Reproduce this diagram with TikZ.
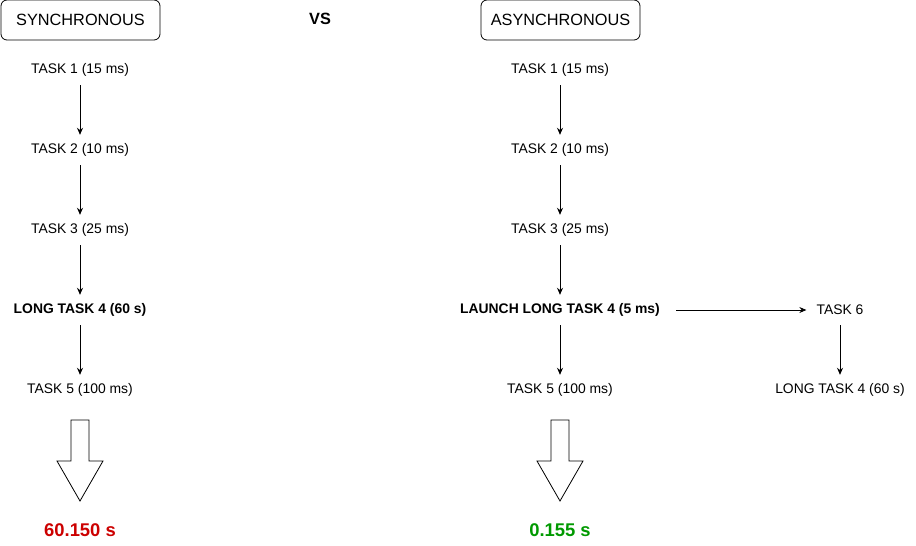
\documentclass[tikz,border=0pt]{standalone}
\usepackage{fontspec}
\setmainfont{Liberation Sans}
\usetikzlibrary{arrows.meta}
\definecolor{resred}{HTML}{CC0000}
\definecolor{resgreen}{HTML}{009900}
\begin{document}
\begin{tikzpicture}[x=1pt,y=-1pt,
  title/.style={draw,line width=0.8pt,rounded corners=6pt,minimum width=159pt,minimum height=40pt,font=\fontsize{16.3}{19}\selectfont,inner sep=0pt},
  task/.style={font=\fontsize{13.9}{16}\selectfont,inner sep=2pt,minimum height=30pt},
  btask/.style={task,font=\fontsize{13.9}{16}\selectfont\bfseries},
  res/.style={font=\fontsize{18.4}{21}\selectfont\bfseries},
  conn/.style={-{Stealth[length=7pt,width=6pt]},line width=0.8pt},
  bigarrow/.style={draw,line width=0.8pt,fill=white}]
\useasboundingbox (0,0) rectangle (916,546);
\node[title] (sync) at (80.5,20) {SYNCHRONOUS};
\node[title] (async) at (560.5,20) {ASYNCHRONOUS};
\node[font=\fontsize{16.3}{19}\selectfont\bfseries] (vs) at (320,19) {VS};
% left column
\node[task] (l1) at (80,70) {TASK 1 (15 ms)};
\node[task] (l2) at (80,150) {TASK 2 (10 ms)};
\node[task] (l3) at (80,230) {TASK 3 (25 ms)};
\node[btask] (l4) at (80,310) {LONG TASK 4 (60 s)};
\node[task] (l5) at (80,390) {TASK 5 (100 ms)};
\draw[conn] (l1) -- (l2);
\draw[conn] (l2) -- (l3);
\draw[conn] (l3) -- (l4);
\draw[conn] (l4) -- (l5);
% right column
\node[task] (r1) at (560,70) {TASK 1 (15 ms)};
\node[task] (r2) at (560,150) {TASK 2 (10 ms)};
\node[task] (r3) at (560,230) {TASK 3 (25 ms)};
\node[btask] (r4) at (560,310) {LAUNCH LONG TASK 4 (5 ms)};
\node[task] (r5) at (560,390) {TASK 5 (100 ms)};
\node[task] (t6) at (840,310) {TASK 6};
\node[task] (t4) at (840,390) {LONG TASK 4 (60 s)};
\draw[conn] (r1) -- (r2);
\draw[conn] (r2) -- (r3);
\draw[conn] (r3) -- (r4);
\draw[conn] (r4) -- (r5);
\draw[conn,shorten <=14pt,shorten >=8pt] (r4) -- (t6);
\draw[conn] (t6) -- (t4);
% big arrows
\draw[bigarrow] (71,420) -- (89,420) -- (89,461) -- (103,461) -- (80,501) -- (57,461) -- (71,461) -- cycle;
\draw[bigarrow] (551,420) -- (569,420) -- (569,461) -- (583,461) -- (560,501) -- (537,461) -- (551,461) -- cycle;
\node[res,text=resred] (rl) at (80,530) {60.150 s};
\node[res,text=resgreen] (rr) at (560,530) {0.155 s};
\end{tikzpicture}
\end{document}
